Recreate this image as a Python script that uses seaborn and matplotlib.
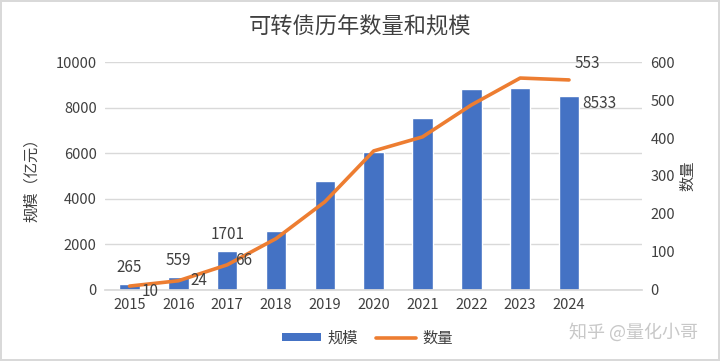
import numpy as np
import pandas as pd
import matplotlib
matplotlib.use("Agg")
import matplotlib.pyplot as plt
import seaborn as sns
from matplotlib.patches import Patch
from matplotlib.lines import Line2D

# ------------------ Data ------------------
years = ["2015", "2016", "2017", "2018", "2019", "2020", "2021", "2022", "2023", "2024"]
scale = [265, 559, 1701, 2590, 4790, 6060, 7540, 8820, 8860, 8533]   # 规模（亿元）
counts = [10, 24, 66, 135, 232, 366, 403, 487, 558, 553]             # 数量

df = pd.DataFrame({"年份": years, "规模": scale, "数量": counts})

BLUE = "#4472C4"
ORANGE = "#ED7D31"
TEXT = "#404040"
GRID = "#D9D9D9"

sns.set_theme(style="white")
plt.rcParams["font.family"] = ["Noto Sans CJK SC", "DejaVu Sans"]

fig = plt.figure(figsize=(7.2, 3.61), dpi=100)
fig.patch.set_edgecolor(GRID)
fig.patch.set_linewidth(1.5)
ax = fig.add_axes([0.146, 0.197, 0.746, 0.631])

# ------------------ Bars: 规模 ------------------
sns.barplot(data=df, x="年份", y="规模", color=BLUE, width=0.42,
            saturation=1, ax=ax, zorder=2)
ax.set_xlim(-0.5, 10.5)
ax.set_ylim(0, 10000)
ax.set_yticks(range(0, 10001, 2000))
ax.yaxis.grid(True, color=GRID, linewidth=1, zorder=0)
ax.set_axisbelow(True)
for s in ["top", "right", "left"]:
    ax.spines[s].set_visible(False)
ax.spines["bottom"].set_color(GRID)
ax.tick_params(axis="both", length=0, labelsize=10.5, labelcolor=TEXT, pad=6)
ax.set_xlabel("")
ax.set_ylabel("规模（亿元）", fontsize=11, color=TEXT, labelpad=11)

# ------------------ Line: 数量 ------------------
ax2 = ax.twinx()
xpos = np.arange(len(years))
sns.lineplot(x=xpos, y=counts, ax=ax2, color=ORANGE, linewidth=2.6,
             sort=False, zorder=3)
ax2.set_ylim(0, 600)
ax2.set_yticks(range(0, 601, 100))
for s in ["top", "right", "left", "bottom"]:
    ax2.spines[s].set_visible(False)
ax2.tick_params(axis="y", length=0, labelsize=10.5, labelcolor=TEXT, pad=6)
ax2.set_ylabel("数量", fontsize=11, color=TEXT, rotation=90, labelpad=3)

# ------------------ Data labels ------------------
lab = dict(fontsize=11, color=TEXT, textcoords="offset pixels")
for i in [0, 1, 2]:
    ax.annotate(str(scale[i]), (i, scale[i]), xytext=(0, 8),
                ha="center", va="bottom", **lab)
ax.annotate(str(scale[9]), (9, scale[9]), xytext=(13, -8),
            ha="left", va="center", **lab)
ax2.annotate(str(counts[0]), (0, counts[0]), xytext=(12, -5),
             ha="left", va="center", **lab)
ax2.annotate(str(counts[1]), (1, counts[1]), xytext=(12, 0),
             ha="left", va="center", **lab)
ax2.annotate(str(counts[2]), (2, counts[2]), xytext=(8, 4),
             ha="left", va="center", **lab)
ax2.annotate(str(counts[9]), (9, counts[9]), xytext=(6, 8),
             ha="left", va="bottom", **lab)

# ------------------ Title / legend ------------------
fig.text(0.5, 0.925, "可转债历年数量和规模", ha="center", va="center",
         fontsize=16, color=TEXT)

handles = [Patch(facecolor=BLUE, edgecolor="none"),
           Line2D([0], [0], color=ORANGE, linewidth=2.6)]
fig.legend(handles, ["规模", "数量"], loc="center", bbox_to_anchor=(0.51, 0.064),
           ncol=2, frameon=False, fontsize=11, labelcolor=TEXT,
           handlelength=2.6, handleheight=0.5, columnspacing=1.2, handletextpad=0.4)

fig.text(0.97, 0.08, "知乎 @量化小哥", ha="right", va="center",
         fontsize=13, color="#C8C8C8")

fig.savefig("out.png", dpi=100, edgecolor=fig.get_edgecolor())
